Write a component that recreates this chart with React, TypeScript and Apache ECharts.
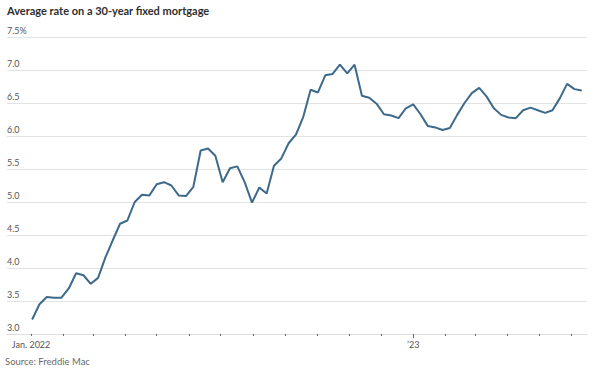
import React, { useEffect, useRef } from "react";
import * as echarts from "echarts";

// Weekly Freddie Mac PMMS 30-year fixed rate, plotted from week starting Sun Jan 2, 2022
const firstWeek = { year: 2022, month: 0, day: 2 };
const rates2022 = [
  3.22, 3.45, 3.56, 3.55, 3.55, 3.69, 3.92, 3.89, 3.76, 3.85, 4.16, 4.42, 4.67,
  4.72, 5.0, 5.11, 5.1, 5.27, 5.3, 5.25, 5.1, 5.09, 5.23, 5.78, 5.81, 5.7,
  5.3, 5.51, 5.54, 5.3, 4.99, 5.22, 5.13, 5.55, 5.66, 5.89, 6.02, 6.29, 6.7,
  6.66, 6.92, 6.94, 7.08, 6.95, 7.08, 6.61, 6.58, 6.49, 6.33, 6.31, 6.27, 6.42,
];
const rates2023 = [
  6.48, 6.33, 6.15, 6.13, 6.09, 6.12, 6.32, 6.5, 6.65, 6.73, 6.6, 6.42, 6.32,
  6.28, 6.27, 6.39, 6.43, 6.39, 6.35, 6.39, 6.57, 6.79, 6.71, 6.69,
];
const yTicks = [3, 3.5, 4, 4.5, 5, 5.5, 6, 6.5, 7, 7.5];
const titleText = "Average rate on a 30-year fixed mortgage";
const sourceText = "Source: Freddie Mac";
const labelMonths = [
  [2022, 0, "Jan. 2022"],
  [2023, 0, "\u201923"],
] as const;

const DAY = 86400000;

export default function App() {
  const ref = useRef<HTMLDivElement>(null);
  useEffect(() => {
    if (!ref.current) return;
    const chart = echarts.init(ref.current, null, { renderer: "svg" });
    const rates = [...rates2022, ...rates2023];
    const data = rates.map((v, i) => [
      new Date(firstWeek.year, firstWeek.month, firstWeek.day + 7 * i).getTime(),
      v,
    ]);
    const jan2022 = new Date(2022, 0, 1).getTime();
    const xMin = jan2022 - 23 * DAY;
    const xMax = new Date(2023, 5, 16).getTime();
    const monthTicks: number[] = [];
    for (let m = 0; m < 18; m++) monthTicks.push(new Date(2022, m, 1).getTime());
    const labelVals = labelMonths.map((l) => new Date(l[0], l[1], 1).getTime());
    const font = "Lato, 'Noto Sans', sans-serif";

    chart.setOption({
      animation: false,
      backgroundColor: "#ffffff",
      grid: { left: 7, right: 13, top: 37, bottom: 37, containLabel: false },
      graphic: [
        {
          type: "text",
          left: 7,
          top: 5,
          style: {
            text: titleText,
            font: `bold 11px ${font}`,
            fill: "#2e2e2e",
          },
        },
        {
          type: "text",
          left: 5,
          top: 356,
          style: {
            text: sourceText,
            font: `9.5px ${font}`,
            fill: "#6a6a6a",
          },
        },
      ],
      xAxis: [
        {
          type: "value",
          min: xMin,
          max: xMax,
          axisLine: { show: true, lineStyle: { color: "#dddddd", width: 1 } },
          axisTick: {
            show: true,
            customValues: monthTicks,
            length: 2,
            lineStyle: { color: "#666666", width: 1 },
          },
          axisLabel: {
            show: true,
            customValues: labelVals,
            margin: 6,
            fontFamily: font,
            fontSize: 9,
            color: "#555555",
            formatter: (val: number) => {
              const d = new Date(val);
              const f = labelMonths.find((l) => l[0] === d.getFullYear());
              return f ? f[2] : "";
            },
          },
          splitLine: { show: false },
        },
        {
          type: "value",
          min: xMin,
          max: xMax,
          position: "bottom",
          axisLine: { show: false },
          axisTick: {
            show: true,
            customValues: [labelVals[1]],
            length: 4,
            lineStyle: { color: "#666666", width: 1 },
          },
          axisLabel: { show: false },
          splitLine: { show: false },
        },
      ],
      yAxis: {
        type: "value",
        min: yTicks[0],
        max: yTicks[yTicks.length - 1],
        interval: 0.5,
        axisLine: { show: false },
        axisTick: { show: false },
        splitLine: { show: true, lineStyle: { color: "#e3e3e3", width: 1 } },
        axisLabel: {
          inside: true,
          margin: 0,
          align: "left",
          verticalAlign: "bottom",
          padding: [0, 0, 2, 0],
          fontFamily: font,
          fontSize: 9,
          color: "#555555",
          formatter: (v: number) =>
            v === yTicks[yTicks.length - 1] ? v.toFixed(1) + "%" : v.toFixed(1),
        },
      },
      series: [
        {
          type: "line",
          xAxisIndex: 0,
          data,
          showSymbol: false,
          lineStyle: { color: "#3d6a8a", width: 2 },
          itemStyle: { color: "#3d6a8a" },
          z: 5,
        },
      ],
    });
    return () => chart.dispose();
  }, []);
  return <div ref={ref} style={{ width: 600, height: 371, position: "absolute", left: 0, top: 0 }} />;
}
